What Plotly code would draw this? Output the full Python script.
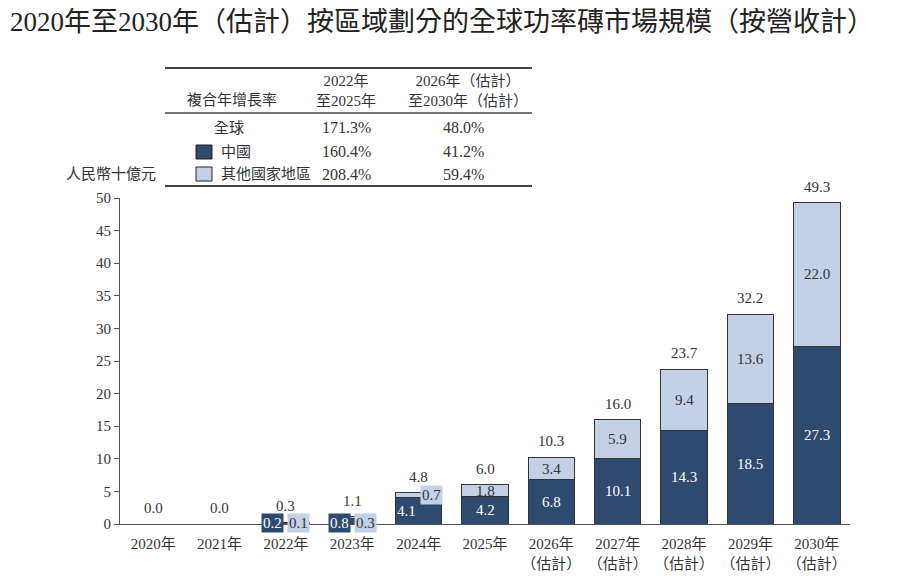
import plotly.graph_objects as go

years = ["2020年", "2021年", "2022年", "2023年", "2024年", "2025年",
         "2026年<br>（估計）", "2027年<br>（估計）", "2028年<br>（估計）",
         "2029年<br>（估計）", "2030年<br>（估計）"]
china = [0.0, 0.0, 0.2, 0.8, 4.1, 4.2, 6.8, 10.1, 14.3, 18.5, 27.3]
others = [0.0, 0.0, 0.1, 0.3, 0.7, 1.8, 3.4, 5.9, 9.4, 13.6, 22.0]
totals = [0.0, 0.0, 0.3, 1.1, 4.8, 6.0, 10.3, 16.0, 23.7, 32.2, 49.3]

cagr_rows = ["全球", "中國", "其他國家地區"]
cagr_2022_2025 = ["171.3%", "160.4%", "208.4%"]
cagr_2026_2030 = ["48.0%", "41.2%", "59.4%"]

DARK = "#2e4a6f"
LIGHT = "#c4d0e6"
TXT = "#333333"
FONT = "Liberation Serif, Noto Sans CJK TC, serif"

fig = go.Figure()
fig.add_trace(go.Bar(x=years, y=china, name="中國", marker=dict(color=DARK, line=dict(color="#333", width=1)),
                     width=0.7))
fig.add_trace(go.Bar(x=years, y=others, name="其他國家地區", marker=dict(color=LIGHT, line=dict(color="#333", width=1)),
                     width=0.7))

ann = []
# value labels (small ones pushed aside with a coloured box)
for i, yr in enumerate(years):
    c, o, t = china[i], others[i], totals[i]
    ann.append(dict(x=yr, y=t, text="%.1f" % t, showarrow=False, yanchor="bottom", yshift=6,
                    font=dict(size=15, color=TXT)))
    if t == 0:
        continue
    if c < 1:
        ann.append(dict(x=yr, y=0, text="%.1f" % c, showarrow=False, xshift=-13, yshift=1,
                        bgcolor=DARK, borderpad=1, font=dict(size=15, color="white")))
        ann.append(dict(x=yr, y=0, text="%.1f" % o, showarrow=False, xshift=13, yshift=1,
                        bgcolor=LIGHT, borderpad=1, font=dict(size=15, color=TXT)))
    elif o < 1:
        ann.append(dict(x=yr, y=c / 2, text="%.1f" % c, showarrow=False, xshift=-12,
                        font=dict(size=15, color="white")))
        ann.append(dict(x=yr, y=c + o / 2, text="%.1f" % o, showarrow=False, xshift=13,
                        bgcolor=LIGHT, borderpad=1, font=dict(size=15, color=TXT)))
    else:
        ann.append(dict(x=yr, y=c / 2, text="%.1f" % c, showarrow=False,
                        font=dict(size=15, color="white")))
        ann.append(dict(x=yr, y=c + o / 2, text="%.1f" % o, showarrow=False,
                        font=dict(size=15, color=TXT)))


# page pixel -> paper coords (plot area is page x 120..850, y 198..524)
def px(xp, yp):
    return (xp - 120) / 730, (524 - yp) / 326


def label(xp, yp, txt, size=15, anchor="center", color=TXT):
    xx, yy = px(xp, yp)
    ann.append(dict(xref="paper", yref="paper", x=xx, y=yy, xanchor=anchor, yanchor="middle",
                    text=txt, showarrow=False, font=dict(size=size, color=color)))


# title and axis unit
label(8, 22, "2020年至2030年（估計）按區域劃分的全球功率磚市場規模（按營收計）",
      size=27, anchor="left", color="#222")
label(158, 174, "人民幣十億元", anchor="right")

# CAGR table
label(232, 100, "複合年增長率")
label(346, 91, "2022年<br>至2025年")
label(468, 91, "2026年（估計）<br>至2030年（估計）")
row_y = [128, 152, 174]
for k, name in enumerate(cagr_rows):
    if k == 0:
        label(229, row_y[k], name)
    else:
        label(219, row_y[k], name, anchor="left")
    label(346, row_y[k], cagr_2022_2025[k], size=16)
    label(463, row_y[k], cagr_2026_2030[k], size=16)

shapes = []
for yp, w in [(68, 2), (113, 1.5), (186, 2)]:
    x0, y0 = px(165, yp)
    x1, _ = px(532, yp)
    shapes.append(dict(type="line", xref="paper", yref="paper", x0=x0, x1=x1, y0=y0, y1=y0,
                       line=dict(color="#444", width=w)))
for yp, col in [(152, DARK), (174, LIGHT)]:
    x0, y0 = px(196, yp - 7)
    x1, y1 = px(212, yp + 7)
    shapes.append(dict(type="rect", xref="paper", yref="paper", x0=x0, x1=x1, y0=y0, y1=y1,
                       fillcolor=col, line=dict(color="#222", width=1)))

# the page body adds an 8px margin, so the figure is shrunk by that amount
fig.update_layout(
    barmode="stack",
    width=892, height=568,
    margin=dict(l=112, r=50, t=190, b=52),
    plot_bgcolor="white", paper_bgcolor="white",
    showlegend=False,
    font=dict(family=FONT, size=15, color=TXT),
    annotations=ann,
    shapes=shapes,
    xaxis=dict(showline=True, linecolor="#555", linewidth=1, ticks="", tickfont=dict(size=15),
               ticklabelstandoff=6, automargin=False),
    yaxis=dict(range=[0, 50], dtick=5, showgrid=False, showline=True, linecolor="#555",
               ticks="outside", ticklen=5, tickcolor="#555", zeroline=False, tickfont=dict(size=15),
               automargin=False),
)

fig.write_html("out.html")
